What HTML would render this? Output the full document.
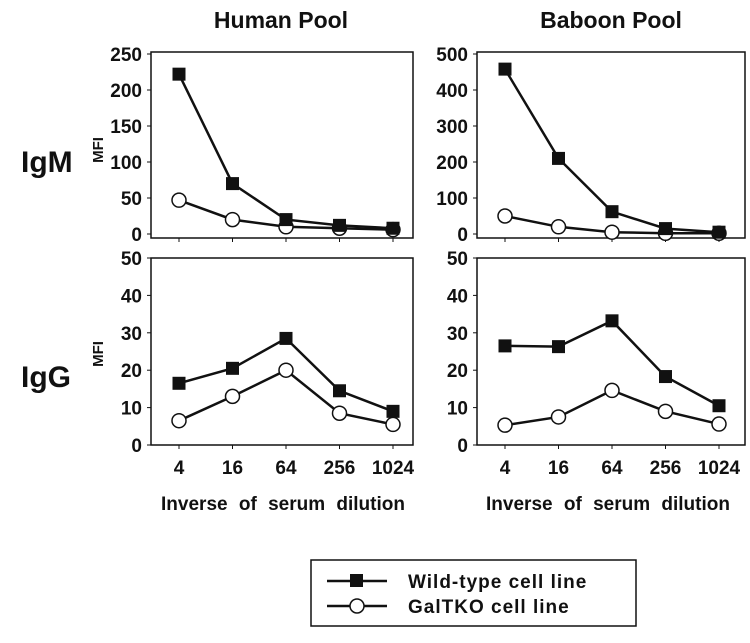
<!DOCTYPE html>
<html><head><meta charset="utf-8"><style>
body{margin:0;background:#fff;}
svg text{font-family:"Liberation Sans",Arial,sans-serif;font-weight:bold;fill:#111;}
</style></head><body>
<svg width="750" height="638" xmlns="http://www.w3.org/2000/svg" id="chart">
<text x="281" y="28" font-size="23" text-anchor="middle">Human Pool</text>
<text x="611" y="28" font-size="23" text-anchor="middle">Baboon Pool</text>
<text x="21" y="172" font-size="30">IgM</text>
<text x="21" y="387" font-size="30">IgG</text>
<text transform="translate(103,150) rotate(-90)" font-size="15" text-anchor="middle">MFI</text>
<text transform="translate(103,354) rotate(-90)" font-size="15" text-anchor="middle">MFI</text>
<text x="283" y="510" font-size="19" text-anchor="middle" word-spacing="6">Inverse  of serum dilution</text>
<text x="608" y="510" font-size="19" text-anchor="middle" word-spacing="6">Inverse  of serum dilution</text>
<g>
<rect x="311" y="560" width="325" height="66" fill="#fff" stroke="#111" stroke-width="1.5"/>
<line x1="327" y1="581" x2="387" y2="581" stroke="#111" stroke-width="2.5"/>
<rect x="350" y="574" width="13" height="13" fill="#111"/>
<text x="408" y="588" font-size="19" letter-spacing="1">Wild-type cell line</text>
<line x1="327" y1="606" x2="387" y2="606" stroke="#111" stroke-width="2.5"/>
<circle cx="357" cy="606" r="7" fill="#fff" stroke="#111" stroke-width="1.5"/>
<text x="408" y="613" font-size="19" letter-spacing="1">GalTKO cell line</text>
</g>
</svg>
<script>
const categories=["4","16","64","256","1024"];
const humanIgMWild=[222,70,20,12,8];
const humanIgMGal=[47,20,10,8,6];
const baboonIgMWild=[458,210,62,15,5];
const baboonIgMGal=[50,20,5,2,2];
const humanIgGWild=[16.5,20.5,28.5,14.5,9];
const humanIgGGal=[6.5,13,20,8.5,5.5];
const baboonIgGWild=[26.5,26.3,33.2,18.3,10.5];
const baboonIgGGal=[5.3,7.5,14.6,9,5.6];
const ticksHumanIgM=[0,50,100,150,200,250];
const ticksBaboonIgM=[0,100,200,300,400,500];
const ticksIgG=[0,10,20,30,40,50];

const svg=document.getElementById('chart');
const NS="http://www.w3.org/2000/svg";
function mk(t,a){const e=document.createElementNS(NS,t);for(const k in a)e.setAttribute(k,a[k]);svg.appendChild(e);return e;}
function panel(name,fx,fy,fw,fh,y0,y1,ticks,wild,gal,showX){
  const yMax=ticks[ticks.length-1];
  const ys=v=>y0-(v/yMax)*(y0-y1);
  const xs=i=>fx+28+i*53.5;
  const fr=mk('rect',{x:fx,y:fy,width:fw,height:fh,fill:'none',stroke:'#111','stroke-width':1.5});
  
  
  ticks.forEach(t=>{
    mk('line',{x1:fx-4,x2:fx,y1:ys(t),y2:ys(t),stroke:'#111','stroke-width':1});
    const tx=mk('text',{x:fx-9,y:ys(t)+7,'font-size':19,'text-anchor':'end'});
    tx.textContent=t;
    
    
  });
  categories.forEach((c,i)=>{
    mk('line',{x1:xs(i),x2:xs(i),y1:fy+fh,y2:fy+fh+4,stroke:'#111','stroke-width':1});
    if(showX){const tx=mk('text',{x:xs(i),y:fy+fh+29,'font-size':19,'text-anchor':'middle'});tx.textContent=c;
      
      }
  });
  const pl=mk('polyline',{points:gal.map((v,i)=>xs(i)+','+ys(v)).join(' '),fill:'none',stroke:'#111','stroke-width':2.5});
  
  
  const pw=mk('polyline',{points:wild.map((v,i)=>xs(i)+','+ys(v)).join(' '),fill:'none',stroke:'#111','stroke-width':2.5});
  
  
  gal.forEach((v,i)=>{const c=mk('circle',{cx:xs(i),cy:ys(v),r:7,fill:'#fff',stroke:'#111','stroke-width':1.5});
    
    });
  wild.forEach((v,i)=>{const r=mk('rect',{x:xs(i)-6.5,y:ys(v)-6.5,width:13,height:13,fill:'#111'});
    
    });
}
panel('human-igm',151,52,262,186,234,54,ticksHumanIgM,humanIgMWild,humanIgMGal,false);
panel('baboon-igm',477,52,268,186,234,54,ticksBaboonIgM,baboonIgMWild,baboonIgMGal,false);
panel('human-igg',151,258,262,187,445,258,ticksIgG,humanIgGWild,humanIgGGal,true);
panel('baboon-igg',477,258,268,187,445,258,ticksIgG,baboonIgGWild,baboonIgGGal,true);
</script>
</body></html>
